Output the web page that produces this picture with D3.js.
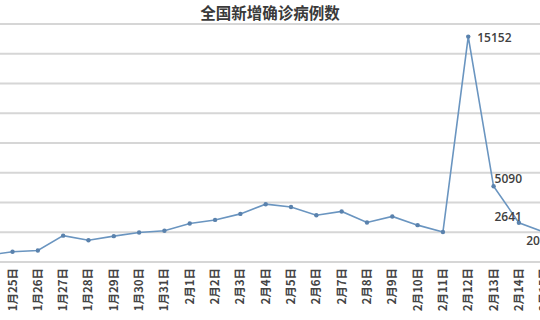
<!DOCTYPE html>
<html>
<head>
<meta charset="utf-8">
<script src="https://cdn.jsdelivr.net/npm/d3@7"></script>
<style>
  html, body { margin: 0; padding: 0; background: #fff; }
  svg { display: block; }
</style>
</head>
<body>
<div id="chart"></div>
<script>
// 每日新增确诊（1月24日 - 2月15日），图片两侧被裁切
var dates = ["1月24日", "1月25日", "1月26日", "1月27日", "1月28日", "1月29日", "1月30日",
    "1月31日", "2月1日", "2月2日", "2月3日", "2月4日", "2月5日", "2月6日", "2月7日",
    "2月8日", "2月9日", "2月10日", "2月11日", "2月12日", "2月13日", "2月14日", "2月15日"];
var newCases = [444, 688, 769, 1771, 1459, 1737, 1982, 2102, 2590, 2829, 3235, 3887,
    3694, 3143, 3399, 2656, 3062, 2478, 2015, 15152, 5090, 2641, 2009];
var labelled = ["2月12日", "2月13日", "2月14日", "2月15日"];
var yTicks = [0, 2000, 4000, 6000, 8000, 10000, 12000, 14000, 16000];

var w = 540,
    h = 320;

var svg = d3.select("#chart").append("svg")
    .attr("width", w)
    .attr("height", h);

var x = d3.scalePoint()
    .domain(dates)
    .range([-12.8, 544.2]);

var y = d3.scaleLinear()
    .domain([0, 16000])
    .range([262, 24]);

svg.append("text")
    .attr("x", 270)
    .attr("y", 19)
    .attr("text-anchor", "middle")
    .style("font-family", "'Noto Sans CJK SC', sans-serif")
    .style("font-weight", "bold")
    .style("font-size", "15.5px")
    .style("fill", "#3a3a3a")
    .text("全国新增确诊病例数");

// 网格线
svg.append("g")
    .selectAll("line")
    .data(yTicks)
    .enter()
    .append("line")
    .attr("x1", 0)
    .attr("x2", w)
    .attr("y1", function (d) { return y(d); })
    .attr("y2", function (d) { return y(d); })
    .style("stroke", "#d6d6d6")
    .style("stroke-width", 1.8);

// x 轴标签
svg.append("g")
    .selectAll("text")
    .data(dates)
    .enter()
    .append("text")
    .attr("transform", function (d) {
        return "translate(" + (x(d) + 4) + ",268) rotate(-90)";
    })
    .attr("text-anchor", "end")
    .style("font-family", "'Noto Sans CJK SC', sans-serif")
    .style("font-weight", "bold")
    .style("font-size", "11.5px")
    .style("fill", "#444")
    .text(function (d) { return d; });

var line = d3.line()
    .x(function (d, i) { return x(dates[i]); })
    .y(function (d) { return y(d); });

svg.append("path")
    .datum(newCases)
    .attr("d", line)
    .style("fill", "none")
    .style("stroke", "#6a95c0")
    .style("stroke-width", 1.6);

svg.append("g")
    .selectAll("circle")
    .data(newCases)
    .enter()
    .append("circle")
    .attr("cx", function (d, i) { return x(dates[i]); })
    .attr("cy", function (d) { return y(d); })
    .attr("r", 2.2)
    .style("fill", "#5a82ad");

// 数据标签
var offsets = {
    "2月12日": [9, 5, "start"],
    "2月13日": [1, -3, "start"],
    "2月14日": [3, -2, "end"],
    "2月15日": [-18, 13, "start"]
};

svg.append("g")
    .selectAll("text")
    .data(labelled)
    .enter()
    .append("text")
    .attr("x", function (d) { return x(d) + offsets[d][0]; })
    .attr("y", function (d) { return y(newCases[dates.indexOf(d)]) + offsets[d][1]; })
    .attr("text-anchor", function (d) { return offsets[d][2]; })
    .style("font-family", "'Open Sans', sans-serif")
    .style("font-weight", "600")
    .style("font-size", "12px")
    .style("fill", "#404040")
    .text(function (d) { return newCases[dates.indexOf(d)]; });
</script>
</body>
</html>
